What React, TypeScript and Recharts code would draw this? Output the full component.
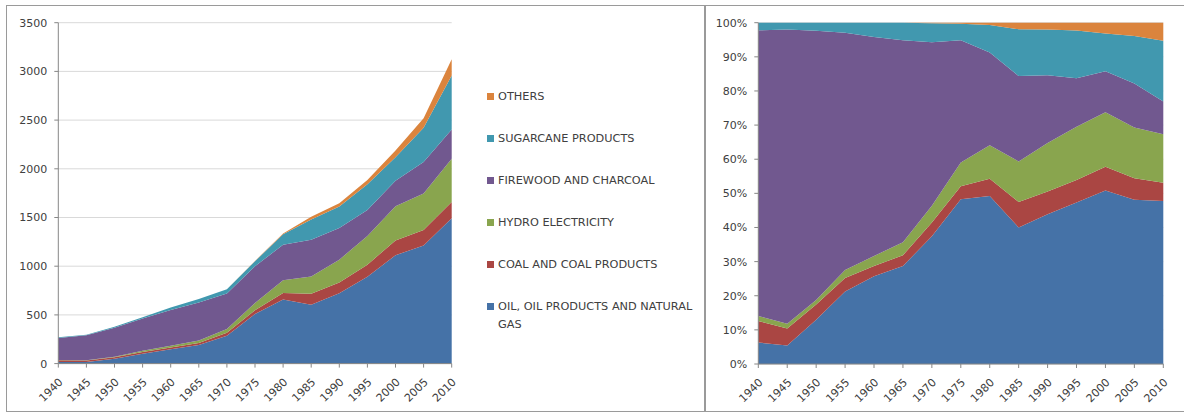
import { AreaChart, Area, XAxis, YAxis, CartesianGrid } from "recharts";

const years = ["1940", "1945", "1950", "1955", "1960", "1965", "1970", "1975", "1980", "1985", "1990", "1995", "2000", "2005", "2010"];

const oil = [17, 16, 49, 101, 148, 190, 286, 509, 658, 603, 723, 892, 1112, 1212, 1493];
const coal = [17, 15, 17, 19, 17, 21, 31, 40, 68, 113, 109, 124, 153, 159, 166];
const hydro = [4, 4, 5, 11, 17, 25, 37, 73, 131, 179, 235, 294, 350, 375, 444];
const firewood = [226, 256, 298, 331, 369, 392, 366, 378, 363, 377, 326, 268, 263, 325, 300];
const sugarcane = [6, 6, 9, 14, 24, 34, 43, 51, 108, 207, 221, 264, 241, 350, 556];
const others = [0, 0, 0, 0, 0, 0, 1, 3, 9, 29, 33, 43, 70, 98, 165];

const leftTicks = [0, 500, 1000, 1500, 2000, 2500, 3000, 3500];
const rightTicks = [0, 0.1, 0.2, 0.3, 0.4, 0.5, 0.6, 0.7, 0.8, 0.9, 1];

const series = [
  { key: "oil", name: "OIL, OIL PRODUCTS AND NATURAL GAS", color: "#4572A7", values: oil },
  { key: "coal", name: "COAL AND COAL PRODUCTS", color: "#AA4643", values: coal },
  { key: "hydro", name: "HYDRO ELECTRICITY", color: "#89A54E", values: hydro },
  { key: "firewood", name: "FIREWOOD AND CHARCOAL", color: "#71588F", values: firewood },
  { key: "sugarcane", name: "SUGARCANE PRODUCTS", color: "#4198AF", values: sugarcane },
  { key: "others", name: "OTHERS", color: "#DB843D", values: others },
];

const data = years.map((year, i) => {
  const row: Record<string, string | number> = { year };
  series.forEach((s) => {
    row[s.key] = s.values[i];
  });
  return row;
});

const FONT = "'DejaVu Sans', sans-serif";
const TEXT = "#404040";
const AXIS = "#868686";

function YearTick({ x, y, payload }: { x?: number; y?: number; payload?: { value: string } }) {
  const ax = (x ?? 0) + 3;
  const ay = (y ?? 0) + 11;
  return (
    <text
      x={ax}
      y={ay}
      transform={`rotate(-45 ${ax} ${ay})`}
      textAnchor="end"
      dominantBaseline="middle"
      fontFamily={FONT}
      fontSize={11}
      fill={TEXT}
    >
      {payload?.value}
    </text>
  );
}

function Areas() {
  return series.map((s) => (
    <Area
      key={s.key}
      type="linear"
      dataKey={s.key}
      name={s.name}
      stackId="a"
      stroke="none"
      fill={s.color}
      fillOpacity={1}
      isAnimationActive={false}
      dot={false}
      activeDot={false}
    />
  ));
}

function Legend() {
  const items = [...series].reverse();
  return (
    <div style={{ position: "absolute", left: 487, top: 88, fontFamily: FONT, fontSize: 11.3, color: TEXT }}>
      {items.map((s) => (
        <div key={s.key} style={{ position: "relative", height: 42, lineHeight: "17.5px" }}>
          <div style={{ position: "absolute", left: 0, top: 5, width: 7, height: 7, background: s.color }} />
          <div style={{ position: "absolute", left: 11, top: 0, width: 200 }}>{s.name}</div>
        </div>
      ))}
    </div>
  );
}

const axisProps = {
  axisLine: { stroke: AXIS },
  tickLine: { stroke: AXIS },
  tickSize: 4,
};

export default function App() {
  return (
    <div style={{ position: "absolute", left: 0, top: 0, width: 1184, height: 414, overflow: "hidden", background: "#fff" }}>
      <div style={{ position: "absolute", left: 6, top: 5, width: 700, height: 407, border: "1.5px solid #9a9a9a", boxSizing: "border-box" }} />
      <div style={{ position: "absolute", left: 704, top: 5, width: 520, height: 407, border: "1.5px solid #9a9a9a", boxSizing: "border-box" }} />

      <div style={{ position: "absolute", left: 0, top: 0 }}>
        <AreaChart width={460} height={414} data={data} margin={{ top: 22.7, right: 8.3, bottom: 8.4, left: 8.3 }}>
          <CartesianGrid vertical={false} stroke="#d9d9d9" />
          <XAxis dataKey="year" {...axisProps} height={42} interval={0} tick={<YearTick />} />
          <YAxis
            {...axisProps}
            tickMargin={7}
            width={50}
            domain={[0, 3500]}
            ticks={leftTicks}
            interval={0}
            tick={{ fontFamily: FONT, fontSize: 11, fill: TEXT }}
          />
          {Areas()}
        </AreaChart>
      </div>

      <Legend />

      <div style={{ position: "absolute", left: 700, top: 0 }}>
        <AreaChart
          width={484}
          height={414}
          data={data}
          stackOffset="expand"
          margin={{ top: 22.7, right: 20.7, bottom: 8, left: 8.3 }}
        >
          <CartesianGrid vertical={false} stroke="#d9d9d9" />
          <XAxis dataKey="year" {...axisProps} height={42} interval={0} tick={<YearTick />} />
          <YAxis
            {...axisProps}
            tickMargin={7}
            width={50}
            domain={[0, 1]}
            ticks={rightTicks}
            interval={0}
            tickFormatter={(v: number) => `${Math.round(v * 100)}%`}
            tick={{ fontFamily: FONT, fontSize: 11, fill: TEXT }}
          />
          {Areas()}
        </AreaChart>
      </div>
    </div>
  );
}
